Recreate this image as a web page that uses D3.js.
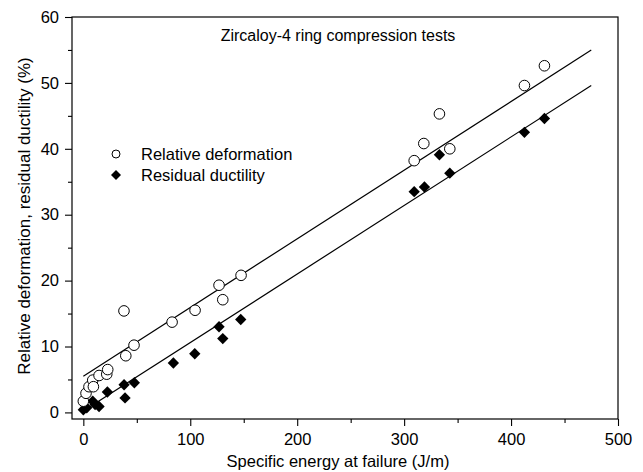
<!DOCTYPE html>
<html>
<head>
    <meta charset="utf-8">
    <script src="https://d3js.org/d3.v7.min.js"></script>
    <style>
        body { margin: 0; background: #fff; }
        text { font-family: "Liberation Sans", Arial, sans-serif; fill: #000; }
    </style>
</head>
<body>
<script>
// relative deformation (open circles)
var relEnergy = [0, 2.5, 5.3, 8.8, 9.4, 14.7, 21.9, 22.8, 38, 39.7, 47.4, 83, 104.5, 126.9, 130.4, 147.5, 309.4, 318.4, 333, 342.7, 412.5, 431.2];
var relDeform = [1.7, 2.9, 3.9, 4.9, 3.9, 5.6, 5.8, 6.5, 15.4, 8.6, 10.2, 13.7, 15.5, 19.3, 17.1, 20.8, 38.2, 40.8, 45.3, 40.0, 49.6, 52.6];
// residual ductility (filled diamonds)
var resEnergy = [0, 3.2, 8.8, 11, 14.7, 22.5, 38.1, 39, 47.7, 84.2, 104.2, 126.9, 130.4, 147.2, 309.4, 319, 333, 342.7, 412.5, 431.2];
var resDuct = [0.4, 0.7, 1.7, 1.2, 0.9, 3.1, 4.2, 2.2, 4.5, 7.5, 8.9, 13.0, 11.2, 14.1, 33.5, 34.2, 39.1, 36.3, 42.5, 44.6];
// linear fits: [intercept, slope], drawn over [0, 475]
var fitRel = [5.5, 0.1042];
var fitRes = [0.2, 0.1040];
var fitRange = [0, 475];
var xTicks = [0, 100, 200, 300, 400, 500];
var yTicks = [0, 10, 20, 30, 40, 50, 60];
var seriesNames = ["Relative deformation", "Residual ductility"];

var W = 643, H = 472;
var mLeft = 72, mRight = 618, mTop = 17, mBottom = 419;
var fs = "16.5px";

var svg = d3.select("body").append("svg")
    .attr("width", W).attr("height", H);

var x = d3.scaleLinear().domain([-10.6, 500]).range([mLeft, mRight]);
var y = d3.scaleLinear().domain([-1, 60]).range([mBottom, mTop]);

// frame
svg.append("rect")
    .attr("x", mLeft).attr("y", mTop)
    .attr("width", mRight - mLeft).attr("height", mBottom - mTop)
    .attr("fill", "none").attr("stroke", "#000").attr("stroke-width", 1.2);

// axes with minor ticks
var xAxis = svg.append("g").attr("transform", "translate(0," + mBottom + ")");
xAxis.call(d3.axisBottom(x).tickValues(d3.range(50, 500, 100)).tickSize(4).tickFormat(""));
xAxis.append("g").call(d3.axisBottom(x).tickValues(xTicks).tickSize(7).tickPadding(7));
var yAxis = svg.append("g").attr("transform", "translate(" + mLeft + ",0)");
yAxis.call(d3.axisLeft(y).tickValues(d3.range(5, 60, 10)).tickSize(4).tickFormat(""));
yAxis.append("g").call(d3.axisLeft(y).tickValues(yTicks).tickSize(7).tickPadding(6));
svg.selectAll(".domain").remove();
svg.selectAll(".tick line").attr("stroke", "#000").attr("stroke-width", 1.1);
svg.selectAll(".tick text")
    .style("font-family", "Liberation Sans, Arial, sans-serif")
    .style("font-size", fs).attr("fill", "#000");

// fit lines
var line = d3.line().x(function(d){ return x(d[0]); }).y(function(d){ return y(d[1]); });
[fitRel, fitRes].forEach(function(f){
    svg.append("path")
        .attr("d", line(fitRange.map(function(e){ return [e, f[0] + f[1] * e]; })))
        .attr("fill", "none").attr("stroke", "#000").attr("stroke-width", 1.2);
});

// diamonds = squares turned 45 degrees
var diamond = d3.symbol().type(d3.symbolSquare).size(64);

// residual ductility points
svg.append("g").selectAll("path")
    .data(resEnergy.map(function(e, i){ return [e, resDuct[i]]; }))
    .enter().append("path")
    .attr("d", diamond)
    .attr("transform", function(d){ return "translate(" + x(d[0]) + "," + y(d[1]) + ") rotate(45)"; })
    .attr("fill", "#000");

// relative deformation points
svg.append("g").selectAll("circle")
    .data(relEnergy.map(function(e, i){ return [e, relDeform[i]]; }))
    .enter().append("circle")
    .attr("cx", function(d){ return x(d[0]); })
    .attr("cy", function(d){ return y(d[1]); })
    .attr("r", 5.3)
    .attr("fill", "#fff").attr("stroke", "#000").attr("stroke-width", 1);

// legend
var lg = svg.append("g").attr("transform", "translate(116,154)");
lg.append("circle").attr("r", 4).attr("fill", "#fff").attr("stroke", "#000");
lg.append("path").attr("d", d3.symbol().type(d3.symbolSquare).size(50))
    .attr("transform", "translate(0,21) rotate(45)").attr("fill", "#000");
lg.selectAll("text").data(seriesNames).enter().append("text")
    .attr("x", 25).attr("y", function(d, i){ return 5.5 + i * 21.5; })
    .style("font-size", fs)
    .text(function(d){ return d; });

// title and axis labels
svg.append("text").attr("x", 338).attr("y", 41)
    .attr("text-anchor", "middle").style("font-size", "16px")
    .text("Zircaloy-4 ring compression tests");
svg.append("text").attr("x", 338).attr("y", 467)
    .attr("text-anchor", "middle").style("font-size", fs)
    .text("Specific energy at failure (J/m)");
svg.append("text")
    .attr("transform", "translate(30," + ((mTop + mBottom) / 2 - 2) + ") rotate(-90)")
    .attr("text-anchor", "middle").style("font-size", "17px")
    .text("Relative deformation, residual ductility (%)");
</script>
</body>
</html>
